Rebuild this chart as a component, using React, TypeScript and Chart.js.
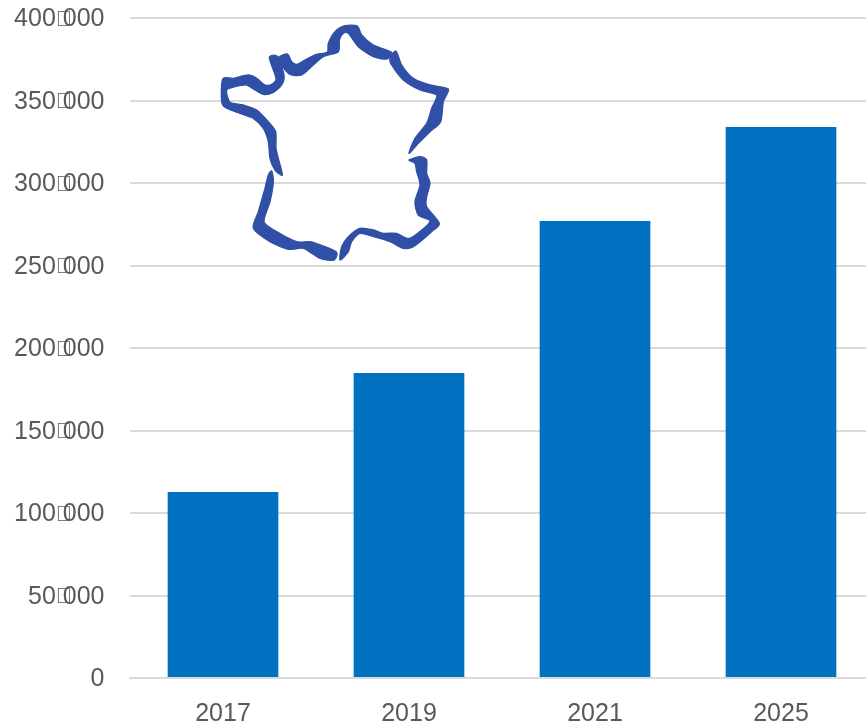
import React, { useEffect, useRef } from "react";
import { Chart, registerables } from "chart.js";

Chart.register(...registerables);

const years = ["2017", "2019", "2021", "2025"];
const counts = [112700, 184800, 277000, 334000];
const yTicks = [0, 50000, 100000, 150000, 200000, 250000, 300000, 350000, 400000];
const tickGap = "\uE000";
const blue = "#0070C0";
const labelColor = "#595959";

const franceOutline: number[][][] = [
  [[38,192],[70,190],[115,180],[140,190],[165,210],[185,208],[198,190],[178,128],[203,125],[222,180],[215,210],[190,232],[160,238],[130,222],[110,210],[75,215],[50,225],[60,262],[100,270],[140,285],[175,320],[197,350],[198,400],[205,430],[217,480],[195,465],[180,430],[175,380],[160,340],[130,310],[90,295],[38,270]],
  [[205,128],[232,117],[245,140],[262,148],[290,132],[320,118],[352,112],[355,85],[375,50],[405,32],[442,33],[455,60],[490,90],[545,112],[530,132],[490,125],[445,95],[415,55],[400,55],[388,75],[385,110],[340,125],[310,150],[275,180],[240,178],[218,155]],
  [[558,108],[575,150],[610,190],[660,210],[715,222],[700,260],[692,320],[660,350],[625,385],[597,415],[615,370],[650,325],[665,280],[680,240],[630,225],[580,195],[545,150],[540,130]],
  [[597,435],[630,425],[650,435],[650,475],[660,505],[650,545],[650,575],[688,625],[665,650],[610,695],[580,700],[540,680],[490,665],[450,655],[425,680],[415,710],[390,735],[395,695],[415,665],[450,640],[490,645],[520,655],[560,655],[600,670],[660,620],[625,600],[615,560],[630,510],[620,470],[615,445]],
  [[185,468],[190,500],[180,560],[162,620],[200,650],[260,680],[300,680],[345,695],[380,712],[372,735],[330,730],[280,700],[235,703],[180,680],[130,640],[145,590],[165,520],[175,480]],
];

const plotTop = 18;

// Pins the top of the plot so the 400 000 gridline sits where the reference has it.
const pinTopPlugin = {
  id: "pinTop",
  afterLayout(chart: any) {
    const y = chart.scales.y;
    const bottom = y.bottom;
    chart.chartArea.top = plotTop;
    chart.chartArea.height = bottom - plotTop;
    y.top = plotTop;
    y.height = bottom - plotTop;
    y.configure();
  },
};

const mapPlugin = {
  id: "franceMap",
  afterDatasetsDraw(chart: any) {
    const ctx = chart.ctx;
    ctx.save();
    ctx.translate(210, 15);
    ctx.scale(1 / 3, 1 / 3);
    ctx.fillStyle = "#2F50A6";
    ctx.strokeStyle = "#2F50A6";
    ctx.lineWidth = 4;
    ctx.lineJoin = "round";
    for (const pts of franceOutline) {
      ctx.beginPath();
      const n = pts.length;
      ctx.moveTo(pts[0][0], pts[0][1]);
      for (let i = 0; i < n; i++) {
        const p0 = pts[(i - 1 + n) % n];
        const p1 = pts[i];
        const p2 = pts[(i + 1) % n];
        const p3 = pts[(i + 2) % n];
        ctx.bezierCurveTo(
          p1[0] + (p2[0] - p0[0]) / 8,
          p1[1] + (p2[1] - p0[1]) / 8,
          p2[0] - (p3[0] - p1[0]) / 8,
          p2[1] - (p3[1] - p1[1]) / 8,
          p2[0],
          p2[1]
        );
      }
      ctx.closePath();
      ctx.fill();
      ctx.stroke();
    }
    ctx.restore();
  },
};

// The reference's thousands separator is a missing-glyph box that overlaps the digits,
// so each y label is drawn in parts at the axis's own tick positions.
const tickTextPlugin = {
  id: "overlappingTicks",
  afterDraw(chart: any) {
    const ctx = chart.ctx;
    const scale = chart.scales.y;
    const right = 104.5;
    ctx.save();
    ctx.textBaseline = "middle";
    ctx.fillStyle = labelColor;
    scale.ticks.forEach((t: any) => {
      const y = scale.getPixelForValue(t.value) + 1.5;
      const [head, tail] = String(t.label).split(tickGap);
      ctx.font = "25px 'Liberation Sans'";
      ctx.textAlign = "right";
      if (tail === undefined) {
        ctx.fillText(head, right, y);
        return;
      }
      ctx.fillText(tail, right, y);
      const tailLeft = right - ctx.measureText(tail).width;
      ctx.fillText(head, tailLeft - 7, y);
      ctx.textAlign = "left";
      ctx.font = "22px 'Liberation Sans'";
      ctx.fillText(tickGap, tailLeft - 7, y);
    });
    ctx.restore();
  },
};

export default function App() {
  const ref = useRef<HTMLCanvasElement>(null);
  useEffect(() => {
    const chart = new Chart(ref.current!, {
      type: "bar",
      data: {
        labels: years,
        datasets: [{ data: counts, backgroundColor: blue, barPercentage: 0.595, categoryPercentage: 1 }],
      },
      options: {
        animation: false,
        responsive: false,
        layout: { autoPadding: false, padding: 0 },
        plugins: { legend: { display: false }, tooltip: { enabled: false } },
        scales: {
          x: {
            grid: { display: false },
            border: { color: "#D9D9D9", width: 2 },
            ticks: { color: labelColor, font: { family: "Liberation Sans", size: 25 }, padding: 13, maxRotation: 0 },
            afterFit: (s: any) => { s.height = 47; },
          },
          y: {
            min: 0,
            max: 400000,
            afterBuildTicks: (s: any) => { s.ticks = yTicks.map((value) => ({ value })); },
            grid: { color: "#D9D9D9", lineWidth: 2, drawTicks: false },
            border: { display: false },
            ticks: {
              color: "rgba(0,0,0,0)",
              font: { family: "Liberation Sans", size: 25 },
              padding: 26,
              callback: (v: any) => {
                const n = Number(v);
                if (n === 0) return "0";
                return `${Math.floor(n / 1000)}${tickGap}000`;
              },
            },
            afterFit: (s: any) => { s.width = 130; },
          },
        },
      },
      plugins: [pinTopPlugin, mapPlugin, tickTextPlugin],
    } as any);
    return () => chart.destroy();
  }, []);
  return (
    <div style={{ position: "fixed", left: 0, top: 0, width: 866, height: 725, overflow: "hidden", background: "#fff" }}>
      <canvas ref={ref} width={874} height={725} style={{ display: "block" }} />
    </div>
  );
}
